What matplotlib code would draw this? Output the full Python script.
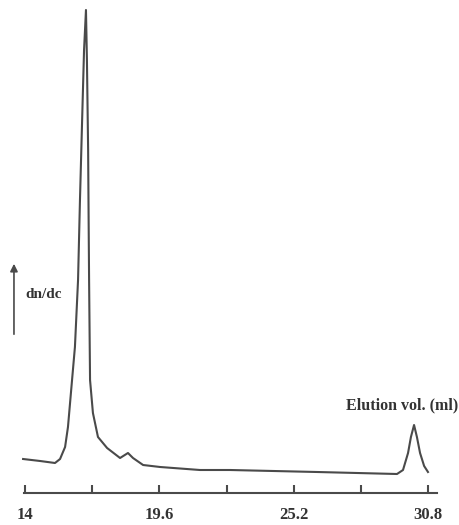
#!/usr/bin/env python3
'''
Gel permeation chromatogram: dn/dc signal against elution volume
'''
import matplotlib
matplotlib.use('Agg')
import matplotlib.pyplot as plt

LINE_COLOR = '#4a4a4a'
TEXT_COLOR = '#333333'
FONT = 'Liberation Serif'

# elution volume (ml) and detector response (arbitrary units)
elution_ml = [13.92, 14.63, 15.25, 15.46, 15.67, 15.79, 15.96, 16.08, 16.21,
              16.29, 16.38, 16.46, 16.54, 16.58, 16.63, 16.65, 16.67, 16.71,
              16.83, 17.04, 17.42, 17.96, 18.29, 18.50, 18.92, 19.63, 21.29,
              22.54, 26.17, 29.50, 29.75, 29.96, 30.08, 30.21, 30.33, 30.46,
              30.63, 30.79]
response = [34, 32, 30, 34, 46, 66, 113, 146, 213,
            293, 373, 443, 483, 433, 343, 276, 213, 113,
            80, 56, 45, 35, 40, 35, 28, 26, 23,
            23, 21, 19, 23, 40, 56, 68, 56, 40,
            27, 21]

tick_values = [14, 16.8, 19.6, 22.4, 25.2, 28, 30.8]
tick_labels = ['14', '', '19.6', '', '25.2', '', '30.8']


def main():
    ''' Draw the chromatogram '''
    fig = plt.figure(figsize=(4.59, 5.25), dpi=100)
    ax = fig.add_axes([0, 0, 1, 1])
    ax.set_xlim(12.958, 32.083)
    ax.set_ylim(-32, 493)

    ax.plot(elution_ml, response, color=LINE_COLOR, lw=1.5,
            solid_joinstyle='round')

    # only the bottom axis line is shown, ticks pointing up
    for side in ('top', 'right', 'left'):
        ax.spines[side].set_visible(False)
    ax.spines['bottom'].set_position(('data', 0))
    ax.spines['bottom'].set_bounds(13.96, 31.17)
    ax.spines['bottom'].set_color(LINE_COLOR)
    ax.spines['bottom'].set_linewidth(1.5)
    ax.set_yticks([])
    ax.set_xticks(tick_values)
    ax.set_xticklabels(tick_labels)
    ax.tick_params(axis='x', direction='in', length=6, width=1.5,
                   color=LINE_COLOR, pad=10, labelsize=12,
                   labelcolor=TEXT_COLOR)
    for label in ax.get_xticklabels():
        label.set_fontfamily(FONT)
        label.set_fontweight('bold')

    # dn/dc arrow and axis captions
    ax.annotate('', xy=(13.54, 232), xytext=(13.54, 156),
                arrowprops=dict(arrowstyle='-|>', color=LINE_COLOR, lw=1.2,
                                mutation_scale=11))
    ax.text(14.0, 198, 'dn/dc', ha='left', va='center', fontsize=11,
            fontfamily=FONT, fontweight='bold', color=TEXT_COLOR)
    ax.text(32.04, 88, 'Elution vol. (ml)', ha='right', va='center',
            fontsize=11.5, fontfamily=FONT, fontweight='bold',
            color=TEXT_COLOR)

    fig.savefig('out.png', dpi=100, facecolor='white')


if __name__ == '__main__':
    main()
